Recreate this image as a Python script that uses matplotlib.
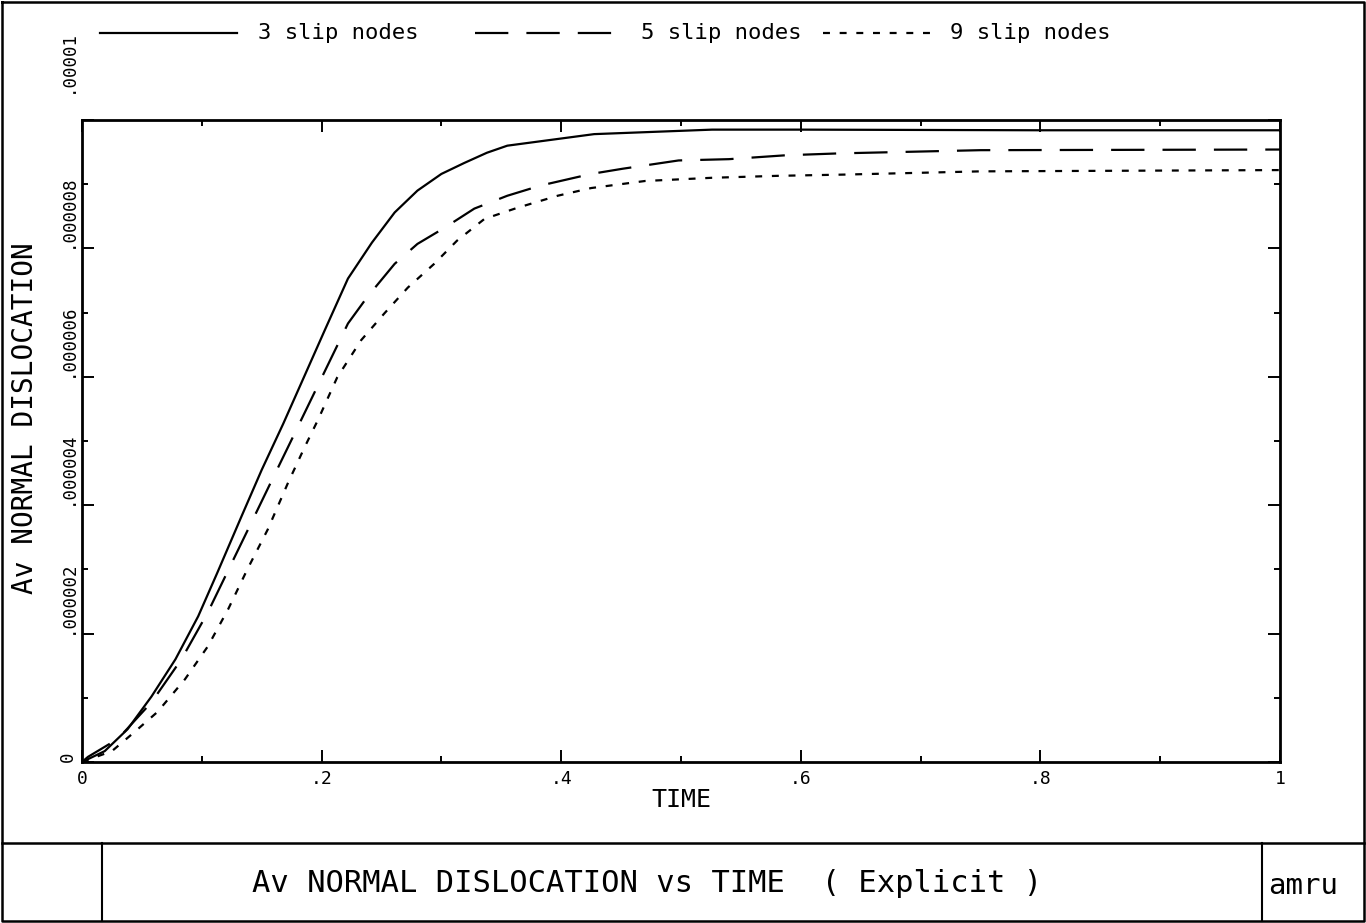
import numpy as np
import matplotlib
matplotlib.use("Agg")
import matplotlib.pyplot as plt
from matplotlib.lines import Line2D
from matplotlib.transforms import ScaledTranslation

plt.rcParams['font.family'] = ['DejaVu Sans Mono', 'DejaVu Sans']
plt.rcParams['lines.scale_dashes'] = False

# ---------------- data (dislocation in units of 1e-6) ----------------
series_labels = ['3 slip nodes', '5 slip nodes', '9 slip nodes']

time_3 = [0, 0.019, 0.038, 0.058, 0.078, 0.097, 0.113, 0.133, 0.150, 0.168,
          0.183, 0.2025, 0.222, 0.242, 0.261, 0.280, 0.300, 0.319, 0.338,
          0.355, 0.4275, 0.526, 0.60, 0.80, 1.0]
disl_3 = [0, 0.17, 0.51, 1.02, 1.60, 2.27, 2.95, 3.82, 4.55, 5.27,
          5.90, 6.72, 7.53, 8.09, 8.56, 8.90, 9.16, 9.33, 9.49,
          9.60, 9.78, 9.85, 9.85, 9.84, 9.84]

time_5 = [0, 0.005, 0.030, 0.058, 0.083, 0.105, 0.125, 0.144, 0.158, 0.176,
          0.183, 0.2025, 0.222, 0.238, 0.261, 0.280, 0.3025, 0.3275, 0.355,
          0.383, 0.425, 0.451, 0.498, 0.54, 0.587, 0.632, 0.75, 1.0]
disl_5 = [0, 0.08, 0.36, 0.93, 1.60, 2.33, 3.10, 3.83, 4.37, 5.06,
          5.33, 6.08, 6.83, 7.24, 7.76, 8.07, 8.32, 8.62, 8.82,
          8.98, 9.16, 9.24, 9.37, 9.39, 9.45, 9.48, 9.53, 9.54]

time_9 = [0, 0.025, 0.044, 0.063, 0.086, 0.105, 0.122, 0.138, 0.155, 0.172,
          0.186, 0.197, 0.213, 0.233, 0.2525, 0.272, 0.294, 0.313, 0.336,
          0.363, 0.397, 0.425, 0.47, 0.526, 0.58, 0.637, 0.75, 1.0]
disl_9 = [0, 0.17, 0.47, 0.78, 1.29, 1.80, 2.38, 3.00, 3.62, 4.35,
          4.91, 5.33, 5.99, 6.57, 6.99, 7.39, 7.76, 8.12, 8.46,
          8.63, 8.82, 8.94, 9.05, 9.10, 9.13, 9.15, 9.20, 9.22]

x_ticks = [0, 0.2, 0.4, 0.6, 0.8, 1.0]
x_tick_labels = ['0', '.2', '.4', '.6', '.8', '1']
x_minor = [0.1, 0.3, 0.5, 0.7, 0.9]
y_ticks = [0, 2e-6, 4e-6, 6e-6, 8e-6, 1e-5]
y_tick_labels = ['0', '.000002', '.000004', '.000006', '.000008', '.00001']
y_minor = [1e-6, 3e-6, 5e-6, 7e-6, 9e-6]

x_label = 'TIME'
y_label = 'Av NORMAL DISLOCATION'
title = 'Av NORMAL DISLOCATION vs TIME  ( Explicit )'
tag = 'amru'
scale = 1e-6

# ---------------- layout helpers ----------------
W, H = 1366, 923
def fx(px):
    return px / W
def fy(py):
    return 1 - py / H

fig = plt.figure(figsize=(W / 100, H / 100), dpi=100)
fig.patch.set_facecolor('white')

ax = fig.add_axes([fx(82), fy(762), fx(1280) - fx(82), fy(120) - fy(762)])

styles = ['-', (0, (24, 13)), (0, (5, 7))]
series = [(time_3, disl_3), (time_5, disl_5), (time_9, disl_9)]
for (t, d), ls, lab in zip(series, styles, series_labels):
    ax.plot(t, np.array(d) * scale, color='black', lw=1.6, ls=ls, label=lab)

ax.set_xlim(0, 1)
ax.set_ylim(0, 1e-5)
ax.set_xticks(x_ticks, x_tick_labels)
ax.set_xticks(x_minor, minor=True)
ax.set_yticks(y_ticks, y_tick_labels)
ax.set_yticks(y_minor, minor=True)
ax.tick_params(which='both', direction='in', top=True, right=True, width=1.4, color='black')
ax.tick_params(which='major', length=8.5)
ax.tick_params(which='minor', length=4.5)
ax.tick_params(axis='x', labelsize=13, pad=6)
ax.tick_params(axis='y', labelsize=12.5, pad=4)
ylabs = ax.get_yticklabels()
for lab in ylabs:
    lab.set_rotation(90)
    lab.set_rotation_mode('anchor')
    lab.set_ha('left')
    lab.set_va('bottom')
# the top label sits a little higher in the original plot
ylabs[-1].set_transform(ylabs[-1].get_transform() + ScaledTranslation(0, 0.27, fig.dpi_scale_trans))
for sp in ax.spines.values():
    sp.set_linewidth(2)

fig.text(fx(681), fy(800), x_label, ha='center', va='center', fontsize=18)
fig.text(fx(25), fy(418), y_label, ha='center', va='center', rotation=90, fontsize=20)

# ---------------- legend row ----------------
leg_y = fy(33)
samples = [(100, 237, 258), (475, 628, 641), (823, 935, 950)]
for (x0, x1, xt), ls, lab in zip(samples, styles, series_labels):
    fig.add_artist(Line2D([fx(x0), fx(x1)], [leg_y, leg_y], color='black', lw=1.6, ls=ls,
                          transform=fig.transFigure))
    fig.text(fx(xt), leg_y, lab, ha='left', va='center', fontsize=16)

# ---------------- outer frame and title block ----------------
def fline(xs, ys, lw=1.8):
    fig.add_artist(Line2D([fx(v) for v in xs], [fy(v) for v in ys], color='black', lw=lw,
                          transform=fig.transFigure))

fline([2, 1364, 1364, 2, 2], [2, 2, 921, 921, 2])
fline([2, 1364], [843, 843])
fline([102, 102], [843, 921], lw=1.5)
fline([1262, 1262], [843, 921], lw=1.5)

fig.text(fx(252), fy(884), title, ha='left', va='center', fontsize=22)
fig.text(fx(1268), fy(886), tag, ha='left', va='center', fontsize=21)

fig.savefig('out.png', dpi=100, facecolor='white')
